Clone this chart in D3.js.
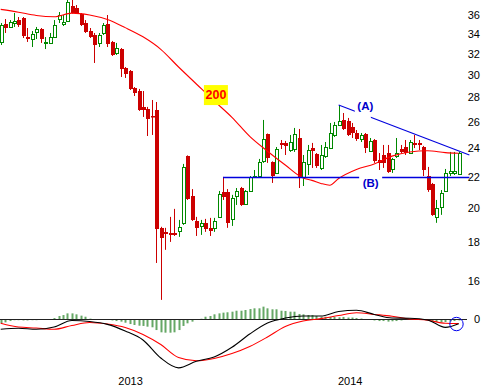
<!DOCTYPE html>
<html><head><meta charset="utf-8">
<script src="https://cdn.jsdelivr.net/npm/d3@7"></script>
<style>body{margin:0;background:#fff}svg{display:block}</style>
</head><body><svg id="c" width="490" height="392"></svg>
<script>
// ---- data ----
const openP  = [33.16,35.03,34.71,35.13,35.45,35.67,33.66,33.46,34.18,34.50,33.06,33.06,33.66,35.56,35.03,35.34,37.00,36.77,36.11,35.13,34.28,33.87,33.06,34.08,35.03,33.16,32.06,32.45,30.63,30.35,28.81,28.55,27.20,27.03,26.46,26.95,18.81,18.58,18.52,18.52,18.63,19.10,23.42,20.74,19.21,18.92,19.10,18.81,18.81,19.45,20.99,20.99,19.33,20.74,21.24,20.23,21.05,21.97,22.03,23.07,25.04,23.00,22.24,24.37,24.37,23.85,23.92,24.74,21.97,22.86,23.99,23.56,22.58,23.42,23.99,24.97,25.74,26.14,26.06,25.59,25.12,24.66,25.04,23.78,24.59,23.14,23.49,23.63,22.51,23.42,23.92,24.07,23.63,24.37,24.37,24.07,22.03,21.50,19.45,20.05,21.05,22.24,22.24,22.17];
const highP  = [35.13,35.56,35.45,36.22,35.78,35.78,34.60,34.28,34.71,34.60,33.66,34.08,35.45,36.33,36.00,37.69,37.69,37.11,36.22,35.45,34.60,34.08,34.08,35.13,36.00,33.26,33.06,32.55,30.72,30.44,28.90,28.73,28.55,27.20,27.78,27.61,18.87,18.81,19.45,19.93,19.27,22.86,23.46,21.17,19.45,19.27,19.33,19.39,19.39,21.05,21.97,21.17,20.80,21.24,21.31,21.11,22.03,22.44,23.21,26.14,25.08,23.04,24.07,24.59,24.52,24.97,25.51,25.43,23.49,24.22,24.37,23.63,24.22,24.44,25.90,25.98,27.36,26.70,26.30,25.90,25.35,25.12,25.12,24.74,24.66,23.63,24.22,24.22,23.28,24.74,24.22,24.59,24.59,24.97,24.59,24.15,22.65,21.57,20.48,21.11,22.51,23.71,23.71,23.71];
const lowP   = [32.85,34.08,34.60,34.71,34.71,33.56,33.16,32.65,33.46,33.06,32.45,32.95,33.56,35.13,34.81,35.24,36.16,36.11,34.81,34.08,33.56,31.10,32.65,33.87,32.65,31.77,31.87,29.80,29.71,28.64,28.12,26.87,26.38,24.89,24.97,16.90,15.10,17.59,18.02,18.35,18.30,18.98,20.48,19.21,18.35,18.41,18.58,18.35,18.58,19.39,20.48,18.81,18.92,20.17,20.11,20.17,20.99,21.90,21.90,22.93,22.93,21.57,22.17,23.92,23.49,23.71,23.71,21.24,21.37,22.10,22.58,22.58,22.44,23.28,23.92,24.82,25.66,25.35,24.89,24.74,24.52,24.44,23.63,23.71,22.93,22.44,22.58,22.24,22.24,23.28,23.63,23.49,23.60,23.99,23.85,22.03,20.99,19.51,19.10,19.57,20.99,22.03,22.10,22.10];
const closeP = [34.92,34.60,35.24,35.34,34.92,33.77,33.46,33.97,34.50,33.46,33.16,33.66,34.92,36.00,35.24,37.45,36.22,36.22,34.92,34.18,33.66,32.85,33.87,34.92,32.95,31.87,32.55,30.53,30.07,28.73,28.38,26.95,26.95,26.22,26.38,18.75,18.24,18.47,18.41,18.41,18.87,22.65,20.54,19.27,18.81,19.10,18.75,18.63,19.21,20.86,20.67,19.10,20.61,21.05,20.17,21.05,21.97,22.03,23.00,24.66,23.28,22.03,23.92,24.22,24.15,24.44,25.04,21.97,23.00,23.85,23.78,22.72,23.49,24.07,25.12,25.74,26.06,25.43,24.97,25.12,24.66,24.97,23.99,24.52,23.07,22.93,22.93,22.31,23.21,23.63,23.71,23.63,24.44,24.22,24.22,22.44,21.11,19.57,19.99,20.92,22.24,22.38,22.38,23.63];

const maIdx = [0,4,8,12,16,20,24,28,32,36,40,44,48,52,56,60,64,68,70,72,74,76,80,84,88,92,96,100,103];
const maVal = [36.62,36.31,35.95,35.81,36.21,36.00,35.50,34.64,33.68,32.42,30.72,29.17,27.70,26.35,24.86,23.76,22.78,21.90,21.74,21.54,21.42,21.87,22.48,22.86,23.41,23.71,23.80,23.66,23.61];

const macdIdx = [0,4,8,12,16,20,24,28,32,36,40,44,48,52,56,60,64,68,72,76,80,84,88,92,96,100,103];
const macdVal = [-0.86,-0.77,-0.86,-0.67,-0.13,-0.21,-0.45,-1.00,-1.75,-3.25,-4.07,-3.52,-3.17,-2.36,-1.25,-0.33,0.08,0.25,0.25,0.63,0.73,0.38,0.08,0.06,-0.08,-0.70,-0.40];
const signalVal = [-0.36,-0.67,-0.75,-0.86,-0.54,-0.29,-0.42,-0.71,-1.29,-2.13,-3.21,-3.48,-3.29,-2.88,-2.29,-1.50,-0.63,-0.17,0.03,0.29,0.52,0.38,0.23,0.00,-0.10,-0.36,-0.38];
const histVal = [-0.36,-0.28,-0.17,-0.10,-0.10,-0.12,-0.12,-0.10,-0.10,-0.08,-0.08,-0.06,0.08,0.25,0.33,0.47,0.47,0.39,0.28,0.19,0.03,-0.08,-0.08,-0.08,-0.08,-0.12,-0.17,-0.22,-0.31,-0.42,-0.50,-0.56,-0.58,-0.64,-0.69,-0.92,-1.11,-1.14,-1.14,-1.11,-0.92,-0.58,-0.36,-0.22,-0.08,0.02,0.19,0.25,0.39,0.47,0.53,0.56,0.61,0.69,0.69,0.75,0.83,0.89,0.89,1.03,0.89,0.81,0.81,0.69,0.67,0.61,0.61,0.42,0.39,0.33,0.33,0.25,0.19,0.19,0.17,0.17,0.14,0.17,0.12,0.12,0.08,0.04,-0.08,-0.08,-0.12,-0.17,-0.17,-0.22,-0.19,-0.17,-0.12,-0.08,-0.08,-0.06,-0.04,-0.08,-0.12,-0.21,-0.25,-0.28,-0.25,-0.21,-0.17,-0.12];

const priceTicks = [16,18,20,22,24,26,28,30,32,34,36];
const macdTicks = [0];
const yearIdx = [29.2, 78.6];
const yearLabels = ["2013","2014"];

const trendA = [[76, 27.36],[105.4, 23.49]];
const levelB = [[50, 21.95],[105.4, 21.95]];
const labelA = {idx: 82.0, price: 26.93, text: "(A)"};
const labelB = {idx: 83.2, price: 21.33, text: "(B)"};
const maLabel = {idx: 48.4, price: 28.2, text: "200"};
const circleMark = {idx: 102.5, value: -0.42};

// ---- scales ----
const svg = d3.select("#c");
const W = 490, H = 392;
const x = d3.scaleLinear().domain([0, 103]).range([0.7, 458.7]);
const y = d3.scaleLog().domain([16, 36]).range([280.9, 15]);
const ym = d3.scaleLinear().domain([-4.5, 1.5]).range([373, 301]);
const FONT = "'Liberation Sans', Arial, sans-serif";

svg.append("rect").attr("width", W).attr("height", H).attr("fill", "#fff");

const candles = openP.map((o, i) => ({i, o, h: highP[i], l: lowP[i], c: closeP[i]}));
const RED = "#cc0000", GREEN = "#008800";

// MACD histogram
const gH = svg.append("g");
gH.selectAll("rect").data(histVal).join("rect")
  .attr("x", (d, i) => Math.round(x(i)) - 0.5)
  .attr("width", 2)
  .attr("y", d => Math.min(ym(d), ym(0)))
  .attr("height", d => Math.max(0.8, Math.abs(ym(d) - ym(0))))
  .attr("fill", "#66a866");

// zero line
svg.append("line").attr("x1", 0).attr("x2", 467)
  .attr("y1", Math.round(ym(0)) + 0.5).attr("y2", Math.round(ym(0)) + 0.5)
  .attr("stroke", "#222").attr("stroke-width", 1);

// MACD & signal lines
const lm = d3.line().x(d => x(d[0])).y(d => ym(d[1])).curve(d3.curveMonotoneX);
svg.append("path").datum(macdIdx.map((k, j) => [k, signalVal[j]]))
  .attr("d", lm).attr("fill", "none").attr("stroke", "#ff0000").attr("stroke-width", 1.1);
svg.append("path").datum(macdIdx.map((k, j) => [k, macdVal[j]]))
  .attr("d", lm).attr("fill", "none").attr("stroke", "#000").attr("stroke-width", 1.1);

// circle
svg.append("circle").attr("cx", x(circleMark.idx)).attr("cy", ym(circleMark.value))
  .attr("r", 6.7).attr("fill", "none").attr("stroke", "#0000ee").attr("stroke-width", 1);

// candles
const gC = svg.append("g");
candles.forEach(d => {
  const px = Math.round(x(d.i));
  const up = d.c >= d.o;
  const col = up ? GREEN : RED;
  gC.append("line").attr("x1", px + 0.5).attr("x2", px + 0.5)
    .attr("y1", y(d.h)).attr("y2", y(d.l)).attr("stroke", col).attr("stroke-width", 1);
  const top = Math.round(y(Math.max(d.o, d.c)));
  const bot = Math.round(y(Math.min(d.o, d.c)));
  if (up) {
    gC.append("rect").attr("x", px - 0.5).attr("y", top + 0.5)
      .attr("width", 3).attr("height", Math.max(1, bot - top))
      .attr("fill", "#fff").attr("stroke", col).attr("stroke-width", 1);
  } else {
    gC.append("rect").attr("x", px - 1).attr("y", top)
      .attr("width", 4).attr("height", Math.max(1.5, bot - top))
      .attr("fill", col);
  }
});

// 200 MA
const lp = d3.line().x(d => x(d[0])).y(d => y(d[1])).curve(d3.curveMonotoneX);
svg.append("path").datum(maIdx.map((k, j) => [k, maVal[j]]))
  .attr("d", lp).attr("fill", "none").attr("stroke", "#ff0000").attr("stroke-width", 1.1);

// trendlines
svg.append("path").datum(trendA).attr("d", d3.line().x(d => x(d[0])).y(d => y(d[1])))
  .attr("fill", "none").attr("stroke", "#0000dd").attr("stroke-width", 1.1);
svg.append("path").datum(levelB).attr("d", d3.line().x(d => x(d[0])).y(d => Math.round(y(d[1])) + 0.5))
  .attr("fill", "none").attr("stroke", "#0000dd").attr("stroke-width", 1.6);

// labels A / B with white knock-out gaps in the lines
{
  const cx = x(labelA.idx), cy = y(labelA.price);
  svg.append("rect").attr("x", cx - 10.5).attr("y", cy - 9).attr("width", 16).attr("height", 18).attr("fill", "#fff");
  const cxb = x(labelB.idx), cyb = y(labelB.price);
  svg.append("rect").attr("x", cxb - 11.5).attr("y", cyb - 12).attr("width", 23).attr("height", 14).attr("fill", "#fff");
}
[labelA, labelB].forEach(L => {
  svg.append("text").attr("x", x(L.idx)).attr("y", y(L.price)).attr("text-anchor", "middle")
    .attr("font-family", FONT).attr("font-weight", "bold").attr("font-size", 11.5)
    .attr("fill", "#0000cc").text(L.text);
});

// 200 label
{
  const cx = x(maLabel.idx), cy = y(maLabel.price);
  svg.append("rect").attr("x", cx - 12).attr("y", cy - 10).attr("width", 24).attr("height", 20).attr("fill", "#ffff00");
  svg.append("text").attr("x", cx).attr("y", cy + 4.4).attr("text-anchor", "middle")
    .attr("font-family", FONT).attr("font-weight", "bold").attr("font-size", 12.5)
    .attr("fill", "#ff0000").text(maLabel.text);
}

// right axis labels
const axR = d3.axisRight(y).tickValues(priceTicks).tickFormat(d3.format("d")).tickSize(0).tickPadding(0);
const gA = svg.append("g").attr("transform", "translate(480,0)").call(axR);
gA.select(".domain").remove();
gA.selectAll("text").attr("text-anchor", "end").attr("font-family", FONT).attr("font-size", 11).attr("fill", "#000");

const axM = d3.axisRight(ym).tickValues(macdTicks).tickFormat(d3.format("d")).tickSize(0).tickPadding(0);
const gM = svg.append("g").attr("transform", "translate(480,0)").call(axM);
gM.select(".domain").remove();
gM.selectAll("text").attr("text-anchor", "end").attr("font-family", FONT).attr("font-size", 11).attr("fill", "#000");

// year labels
svg.append("g").selectAll("text").data(yearLabels).join("text")
  .attr("x", (d, i) => x(yearIdx[i])).attr("y", 385).attr("text-anchor", "middle")
  .attr("font-family", FONT).attr("font-size", 11).attr("fill", "#000").text(d => d);
</script></body></html>
